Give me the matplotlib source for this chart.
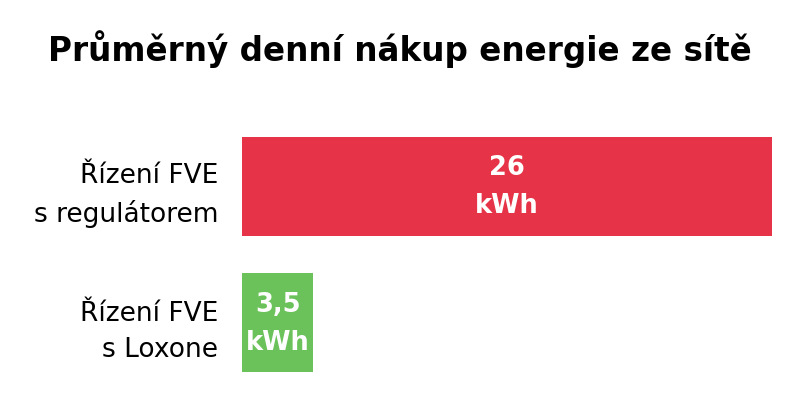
import matplotlib.pyplot as plt

categories = ["Řízení FVE\ns regulátorem", "Řízení FVE\ns Loxone"]
values = [26, 3.5]
value_labels = ["26\nkWh", "3,5\nkWh"]
colors = ["#E63347", "#6BC25A"]

plt.rcParams['font.family'] = ['DejaVu Sans']

fig = plt.figure(figsize=(8, 4.06), dpi=100)
ax = fig.add_axes([242 / 800, 1 - 373 / 406, 530 / 800, 235 / 406])

h = 0.725
ypos = list(range(len(categories)))
ax.barh(ypos, values, height=h, color=colors)
ax.set_xlim(0, max(values))
ax.set_ylim(len(categories) - 1 + h / 2, -h / 2)

for y, v, lab in zip(ypos, values, value_labels):
    ax.text(v / 2, y, lab, ha='center', va='center', color='white',
            fontsize=18.5, fontweight='bold', linespacing=1.6)

ax.set_yticks(ypos)
ax.set_yticklabels(categories, fontsize=19, linespacing=1.5, ha='right')
ax.tick_params(axis='y', length=0, pad=17)
ax.set_xticks([])
for s in ax.spines.values():
    s.set_visible(False)

fig.text(0.5, 1 - 49 / 406, "Průměrný denní nákup energie ze sítě",
         ha='center', va='center', fontsize=23.5, fontweight='bold')

fig.savefig("out.png", dpi=100)
